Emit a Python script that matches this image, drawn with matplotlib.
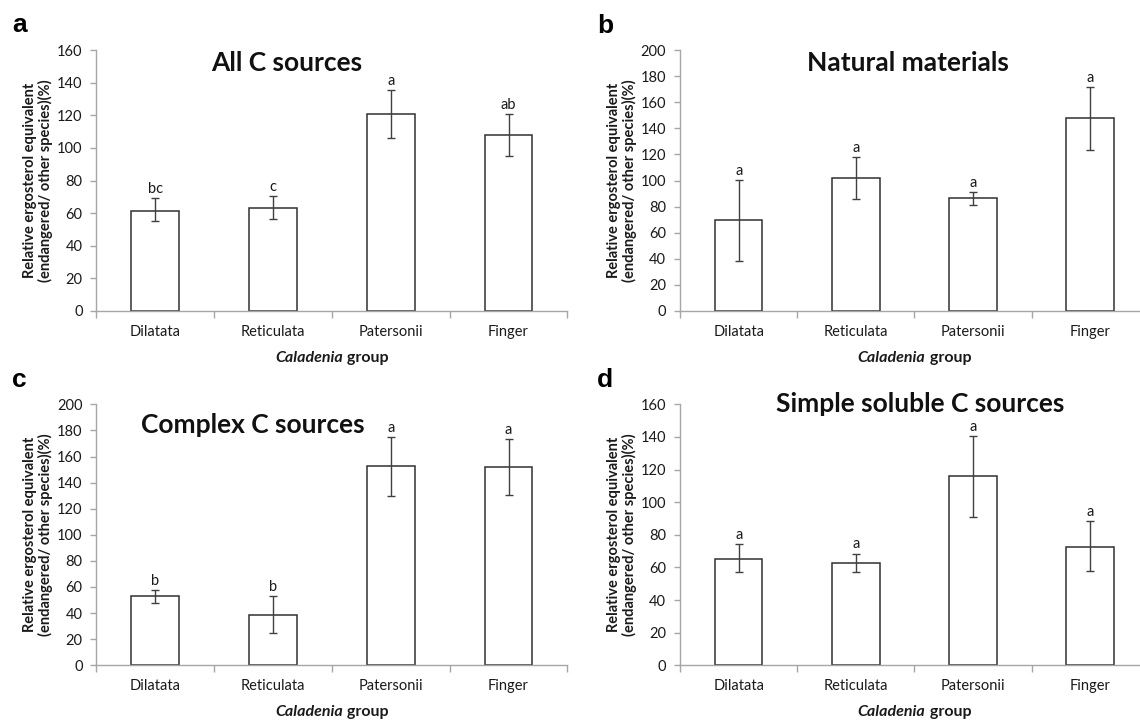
import matplotlib
matplotlib.use("Agg")
import matplotlib.pyplot as plt
import numpy as np

plt.rcParams['font.family'] = ['Lato', 'DejaVu Sans']

categories = ["Dilatata", "Reticulata", "Patersonii", "Finger"]

titles = ["All C sources", "Natural materials", "Complex C sources", "Simple soluble C sources"]
panel_letters = ["a", "b", "c", "d"]

means_a = [61.5, 63.0, 120.5, 108.0]
lo_a = [55.0, 56.5, 106.2, 95.0]
hi_a = [69.4, 70.5, 135.2, 121.0]
sig_a = ["bc", "c", "a", "ab"]

means_b = [69.8, 101.7, 86.7, 147.8]
lo_b = [38.1, 85.6, 81.2, 123.6]
hi_b = [100.4, 118.2, 91.4, 171.9]
sig_b = ["a", "a", "a", "a"]

means_c = [52.9, 38.8, 152.7, 152.2]
lo_c = [48.0, 25.0, 129.8, 130.3]
hi_c = [57.7, 52.9, 175.2, 173.4]
sig_c = ["b", "b", "a", "a"]

means_d = [65.4, 62.7, 115.9, 72.5]
lo_d = [57.0, 57.0, 91.1, 57.6]
hi_d = [74.2, 68.5, 140.4, 88.3]
sig_d = ["a", "a", "a", "a"]

ymax = [160, 200, 200, 160]

ylabel = "Relative ergosterol equivalent\n(endangered/ other species)(%)"

W, H = 1140, 720
fig = plt.figure(figsize=(W / 100, H / 100), dpi=100)

# layout in pixels: left, top, width, height
rects = [(96.4, 50, 471, 261), (680.2, 50, 468.5, 261),
         (96.4, 404.3, 471, 261), (680.2, 404.3, 468.5, 261)]
title_pos = [(287, 71), (908, 71), (253, 433), (920, 412)]  # baselines
letter_pos = [(12, 32), (597, 33), (12, 387), (597, 387)]

data = [(means_a, lo_a, hi_a, sig_a), (means_b, lo_b, hi_b, sig_b),
        (means_c, lo_c, hi_c, sig_c), (means_d, lo_d, hi_d, sig_d)]

axis_col = "#a6a6a6"
txt_col = "#1a1a1a"
renderer = fig.canvas.get_renderer()

for i in range(4):
    l, t, w, h = rects[i]
    ax = fig.add_axes([l / W, 1 - (t + h) / H, w / W, h / H])
    means, lo, hi, sig = data[i]
    x = np.arange(len(categories))
    means = np.array(means)
    err = np.vstack([means - np.array(lo), np.array(hi) - means])
    ax.bar(x, means, width=0.404, color="white", edgecolor="#303030", linewidth=1.1, zorder=2)
    ax.errorbar(x, means, yerr=err, fmt="none", ecolor="#404040", elinewidth=1.0,
                capsize=3, capthick=1.0, zorder=3)
    for xi, top, s in zip(x, hi, sig):
        ax.annotate(s, (xi, top), xytext=(0, 1.5), textcoords="offset points",
                    ha="center", va="bottom", fontsize=10.5, color=txt_col)
    ax.set_xlim(-0.5, 3.5)
    ax.set_ylim(0, ymax[i])
    ax.set_yticks(np.arange(0, ymax[i] + 1, 20))
    ax.set_xticks(x)
    ax.set_xticklabels(categories)
    ax.set_xticks(np.arange(-0.5, 4, 1.0), minor=True)
    ax.tick_params(axis="x", which="major", length=0, pad=10, labelsize=10.5, labelcolor=txt_col)
    ax.tick_params(axis="x", which="minor", length=5, direction="out", color=axis_col, width=1)
    ax.tick_params(axis="y", length=4, direction="out", color=axis_col, width=1,
                   labelsize=10.5, labelcolor=txt_col, pad=6)
    for sp in ["top", "right"]:
        ax.spines[sp].set_visible(False)
    for sp in ["left", "bottom"]:
        ax.spines[sp].set_color(axis_col)
        ax.spines[sp].set_linewidth(1)
    ax.spines["bottom"].set_clip_on(False)
    ax.set_ylabel(ylabel, fontsize=10.5, fontweight="bold", labelpad=3, linespacing=1.05,
                  color=txt_col)

    # x label: italic "Caladenia" + bold "group"
    t1 = ax.text(0.5, 0, "Caladenia", transform=ax.transAxes, fontsize=11.5,
                 fontweight="bold", fontstyle="italic", ha="left", va="center", color=txt_col)
    t2 = ax.text(0.5, 0, " group", transform=ax.transAxes, fontsize=11.5,
                 fontweight="bold", ha="left", va="center", color=txt_col)
    w1 = t1.get_window_extent(renderer).width
    w2 = t2.get_window_extent(renderer).width
    cx_px = l + w / 2.0
    y_px = t + h + 47
    start = cx_px - (w1 + w2) / 2.0
    inv = ax.transAxes.inverted()
    p1 = inv.transform((start, H - y_px))
    p2 = inv.transform((start + w1, H - y_px))
    t1.set_position(p1)
    t2.set_position(p2)
    t1.set_clip_on(False)
    t2.set_clip_on(False)

    tx, ty = title_pos[i]
    fig.text(tx / W, 1 - ty / H, titles[i], fontsize=19, fontweight="bold",
             ha="center", va="baseline", color="#111111")
    lx, ly = letter_pos[i]
    fig.text(lx / W, 1 - ly / H, panel_letters[i], fontsize=19, fontweight="bold",
             ha="left", va="baseline", family="Liberation Sans")

fig.savefig("out.png", dpi=100)
